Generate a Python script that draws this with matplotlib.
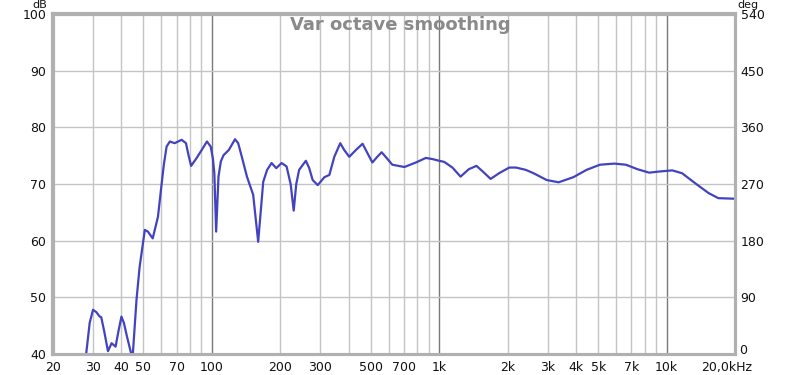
import numpy as np
import matplotlib
matplotlib.use("Agg")
import matplotlib.pyplot as plt
from matplotlib.ticker import FixedLocator, NullFormatter, NullLocator

# ---- data ----
freq_hz = [27.8, 29.0, 30.0, 31.0, 32.1, 32.6, 33.6, 34.9, 36.2, 37.7, 38.8, 40.0, 41.0,
           42.3, 44.0, 44.5, 44.9,
           46.6, 48.1, 50.7, 52.3, 54.9, 57.9, 59.9, 61.5, 63.2, 65.3, 68.6, 73.6, 76.9,
           79.0, 81.0, 85.4, 90.2, 95.1, 98.8, 101.0, 102.5, 104.4, 106.9, 109.5, 112.6,
           118.7, 126.4, 130.5,
           135.4, 142.6, 151.9, 159.8, 168.2, 175.0, 183, 191.9, 202.5, 213, 222, 229,
           235, 242, 259, 268,
           277.5, 292, 312.5, 328.6, 345.5, 366.9, 382, 402, 430, 460, 484, 508, 534,
           558, 581, 622, 703, 790, 873, 933, 1000, 1052, 1143, 1241, 1348, 1458,
           1555, 1683, 1833, 2031, 2176, 2400, 2600, 2970, 3350, 3890, 4450, 5090,
           5890, 6630, 7460, 8390, 9270, 10600, 11700, 13400, 15300, 16900, 20000]
spl_db = [39.0, 45.5, 47.8, 47.4, 46.6, 46.5, 44.0, 40.5, 41.9, 41.3, 44.0, 46.6, 45.5,
          43.1, 40.3, 38.0, 40.0,
          49.6, 55.4, 61.9, 61.6, 60.4, 64.2, 69.5, 73.5, 76.6, 77.5, 77.2, 77.8, 77.2,
          75.0, 73.2, 74.5, 76.0, 77.5, 76.6, 74.5, 71.9, 61.6, 71.3, 74.0, 75.1,
          76.0, 77.9, 77.2,
          74.8, 71.3, 68.1, 59.8, 70.4, 72.5, 73.7, 72.8, 73.7, 73.1, 70.0, 65.3,
          70.0, 72.5, 74.1, 72.8,
          70.7, 69.8, 71.2, 71.6, 74.8, 77.2, 76.0, 74.8, 76.0, 77.1, 75.4, 73.8, 74.8,
          75.6, 74.8, 73.4, 73.0, 73.8, 74.6, 74.4, 74.1, 73.9, 72.9, 71.3, 72.6, 73.2,
          72.2, 70.9, 71.9, 72.9, 72.9, 72.5, 71.9, 70.7, 70.3, 71.2, 72.5, 73.4,
          73.6, 73.4, 72.6, 72.0, 72.2, 72.4, 71.9, 70.1, 68.4, 67.5, 67.4]

x_ticks = [20, 30, 40, 50, 70, 100, 200, 300, 500, 700, 1000, 2000, 3000, 4000,
           5000, 7000, 10000, 20000]
x_labels = ["20", "30", "40", "50", "70", "100", "200", "300", "500", "700", "1k",
            "2k", "3k", "4k", "5k", "7k", "10k", "20,0kHz"]
db_ticks = [40, 50, 60, 70, 80, 90, 100]
deg_ticks = [0, 90, 180, 270, 360, 450, 540]
deg_labels = ["0", "90", "180", "270", "360", "450", "540"]
title = "Var octave smoothing"

# ---- figure ----
plt.rcParams['font.family'] = ['DejaVu Sans']
fig = plt.figure(figsize=(8, 3.75), dpi=100)
ax = fig.add_axes([53/800, 1-354/375, (735-53)/800, (354-14)/375])
ax.set_xscale('log')
ax.set_xlim(20, 20000)
ax.set_ylim(40, 100)

# grid
minor_lines = [m*10**e for e in range(1, 5) for m in range(1, 10)]
minor_lines = [v for v in minor_lines if 20 <= v <= 20000 and v not in (100, 1000, 10000)]
for v in minor_lines:
    ax.axvline(v, color='#c4c4c4', lw=1.0, zorder=0)
for v in (100, 1000, 10000):
    ax.axvline(v, color='#7a7a7a', lw=1.0, zorder=0)
for v in db_ticks[1:-1]:
    ax.axhline(v, color='#c4c4c4', lw=1.0, zorder=0)

ax.plot(freq_hz, spl_db, color='#4343c0', lw=1.6, zorder=3, solid_joinstyle='round')

ax.xaxis.set_major_locator(FixedLocator(x_ticks))
ax.set_xticklabels(x_labels[:-1] + [""])
ax.xaxis.set_minor_locator(NullLocator())
ax.xaxis.set_minor_formatter(NullFormatter())
ax.set_yticks(db_ticks)
ax.tick_params(axis='both', length=0, labelsize=9, colors='#111111')
ax.tick_params(axis='x', pad=5)
ax.tick_params(axis='y', pad=5)

ax2 = ax.twinx()
ax2.set_ylim(0, 540)
ax2.set_yticks(deg_ticks)
ax2.set_yticklabels([""] + deg_labels[1:])
ax2.tick_params(axis='y', length=0, labelsize=9, colors='#111111', pad=4)

for a in (ax, ax2):
    for s in a.spines.values():
        s.set_color('#b0b0b0')
        s.set_linewidth(2.2)
ax.spines['left'].set_linewidth(3)
ax.spines['top'].set_linewidth(3)

fig.text(739/800, 1-350/375, deg_labels[0], fontsize=9, ha='left', va='center',
         color='#111111')
fig.text(727/800, 1-367/375, x_labels[-1], fontsize=9, ha='center', va='center',
         color='#111111')
fig.text(40/800, 1-5/375, "dB", fontsize=8, ha='center', va='center', color='#111111')
fig.text(737/800, 1-5/375, "deg", fontsize=8, ha='left', va='center', color='#111111')
fig.text(400/800, 1-25/375, title, fontsize=13, fontweight='bold', ha='center',
         va='center', color='#8a8a8a')

fig.savefig("out.png", dpi=100)
